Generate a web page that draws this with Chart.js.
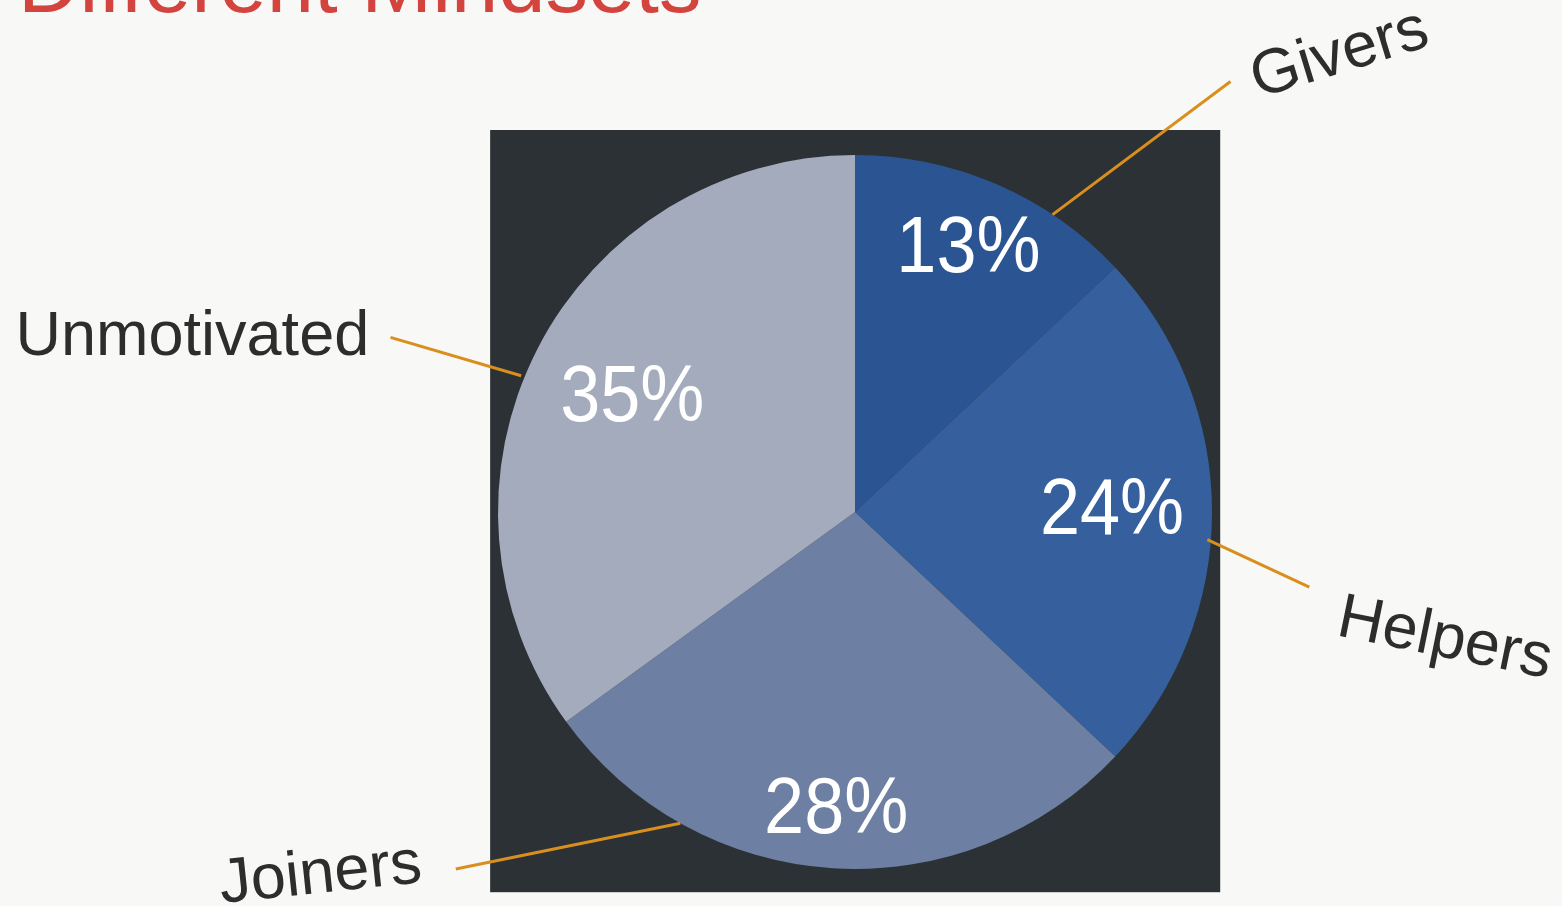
<!DOCTYPE html>
<html>
<head>
<meta charset="utf-8">
<script src="https://cdn.jsdelivr.net/npm/chart.js@4.4.1/dist/chart.umd.min.js"></script>
<style>
  html, body { margin: 0; padding: 0; background: #f8f8f6; overflow: hidden; }
  #wrap { position: relative; width: 1562px; height: 906px; }
  #title {
    position: absolute; left: 18px; top: -60px;
    font: 85px "Liberation Sans", Arial, sans-serif; color: #d4443f;
    white-space: nowrap; line-height: 1;
  }
  canvas { position: absolute; left: 0; top: 0; }
</style>
</head>
<body>
<div id="wrap">
  <div id="title">Different Mindsets</div>
  <canvas id="pie" width="1562" height="906"></canvas>
</div>
<script>
// data
const categories = ['Givers', 'Helpers', 'Joiners', 'Unmotivated'];
const shares = [13, 24, 28, 35];
const sliceColors = ['#2b5592', '#35609d', '#6d7fa2', '#a4abbc'];

// callout layout: angles in degrees clockwise from 12 o'clock, radii as multiples of the pie radius
const callouts = [
  { inA: 33.6, inR: 1.0, outA: 41.1, outR: 1.60, txtA: 46.7, txtR: 1.866, rot: -17, pctR: 0.80 },
  { inA: 94.5, inR: 0.99, outA: 99.4, outR: 1.29, txtA: 102.2, txtR: 1.69, rot: 11.5, pctR: 0.72 },
  { inA: 209.3, inR: 1.0, outA: 228.2, outR: 1.50, txtA: 235.8, txtR: 1.81, rot: -6, pctR: 0.84 },
  { inA: 292.2, inR: 1.01, outA: 290.6, outR: 1.39, txtA: 287.9, txtR: 1.43, rot: 0, pctR: 0.70, right: true }
];

function polar(cx, cy, r, deg, k) {
  const a = deg * Math.PI / 180;
  return [cx + Math.sin(a) * r * k, cy - Math.cos(a) * r * k];
}

const panelPlugin = {
  id: 'panel',
  beforeDatasetsDraw(chart) {
    const arc = chart.getDatasetMeta(0).data[0];
    if (!arc) return;
    const { x, y, outerRadius: r } = arc.getProps(['x', 'y', 'outerRadius'], true);
    const ctx = chart.ctx;
    ctx.save();
    ctx.fillStyle = '#2b3134';
    ctx.fillRect(x - r * 1.022, y - r * 1.07, r * 2.045, r * 2.135);
    ctx.restore();
  }
};

const calloutPlugin = {
  id: 'callouts',
  afterDatasetsDraw(chart) {
    const ctx = chart.ctx;
    const arcs = chart.getDatasetMeta(0).data;
    arcs.forEach((arc, i) => {
      const { x, y, startAngle, endAngle, outerRadius: r } =
        arc.getProps(['x', 'y', 'startAngle', 'endAngle', 'outerRadius'], true);
      const c = callouts[i];

      // percentage inside the slice
      const mid = (startAngle + endAngle) / 2;
      const px = x + Math.cos(mid) * r * c.pctR;
      const py = y + Math.sin(mid) * r * c.pctR;
      ctx.save();
      ctx.translate(px, py);
      ctx.scale(0.9, 1);
      ctx.fillStyle = '#ffffff';
      ctx.font = '80px "Liberation Sans", Arial, sans-serif';
      ctx.textAlign = 'center';
      ctx.textBaseline = 'middle';
      ctx.fillText(shares[i] + '%', 0, 0);
      ctx.restore();

      // leader line
      const p1 = polar(x, y, r, c.inA, c.inR);
      const p2 = polar(x, y, r, c.outA, c.outR);
      ctx.save();
      ctx.strokeStyle = '#d98f1e';
      ctx.lineWidth = 3;
      ctx.beginPath();
      ctx.moveTo(p1[0], p1[1]);
      ctx.lineTo(p2[0], p2[1]);
      ctx.stroke();
      ctx.restore();

      // category label
      const t = polar(x, y, r, c.txtA, c.txtR);
      ctx.save();
      ctx.translate(t[0], t[1]);
      ctx.rotate(c.rot * Math.PI / 180);
      ctx.fillStyle = '#2d2d2d';
      ctx.font = '63px "Liberation Sans", Arial, sans-serif';
      if (c.right) {
        ctx.textAlign = 'right';
        ctx.textBaseline = 'alphabetic';
      } else {
        ctx.textAlign = 'center';
        ctx.textBaseline = 'middle';
      }
      ctx.fillText(categories[i], 0, 0);
      ctx.restore();
    });
  }
};

new Chart(document.getElementById('pie'), {
  type: 'pie',
  data: {
    labels: categories,
    datasets: [{
      data: shares,
      backgroundColor: sliceColors,
      borderWidth: 0
    }]
  },
  options: {
    responsive: false,
    animation: false,
    events: [],
    layout: { padding: { left: 498, right: 350, top: 155, bottom: 37 } },
    plugins: {
      legend: { display: false },
      tooltip: { enabled: false }
    }
  },
  plugins: [panelPlugin, calloutPlugin]
});
</script>
</body>
</html>
